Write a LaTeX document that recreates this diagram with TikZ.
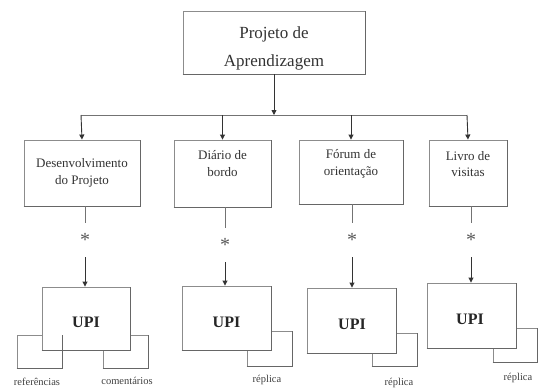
\documentclass[tikz,border=0pt]{standalone}
\usepackage{fontspec}
\setmainfont{LiberationSerif}[Extension=.ttf, UprightFont=*-Regular, BoldFont=*-Bold, ItalicFont=*-Italic, BoldItalicFont=*-BoldItalic]
\usetikzlibrary{arrows.meta}
\begin{document}
\begin{tikzpicture}[x=1pt,y=-1pt,
  boxst/.style={draw=black!45, line width=0.9pt, fill=white, inner sep=0pt},
  edgest/.style={draw=black!60, line width=1.6pt},
  txt/.style={inner sep=0pt, align=center, text=black!80, font=\fontsize{13}{16.5}\selectfont},
  upist/.style={inner sep=0pt, text=black!85, font=\fontsize{16}{16}\selectfont\bfseries},
  lab/.style={inner sep=0pt, text=black!75, font=\fontsize{10.5}{11}\selectfont},
  starst/.style={inner sep=0pt, minimum height=34pt, text=black!65, font=\fontsize{20}{20}\selectfont},
  conn/.style={draw=black!55, line width=0.9pt},
  arr/.style={draw=black!80, line width=0.9pt, -{Triangle[length=5pt,width=5pt]}}
]
\useasboundingbox (0,0) rectangle (539,389);

% top
\node[boxst, minimum width=182pt, minimum height=63pt] (top) at (274,42.5) {};
\node[txt, font=\fontsize{17}{28}\selectfont] (ttop) at (274,48) {Projeto de\\Aprendizagem};

% level 2 boxes
\node[boxst, minimum width=116pt, minimum height=66pt] (b1) at (82,173) {};
\node[boxst, minimum width=97pt, minimum height=67pt] (b2) at (222.5,173.5) {};
\node[boxst, minimum width=104pt, minimum height=64pt] (b3) at (351,172) {};
\node[boxst, minimum width=78pt, minimum height=66pt] (b4) at (468,173) {};
\node[txt] (t1) at (82,173) {Desenvolvimento\\do Projeto};
\node[txt] (t2) at (222.5,163.5) {Diário de\\bordo};
\node[txt] (t3) at (351,164) {Fórum de\\orientação};
\node[txt] (t4) at (468,164) {Livro de\\visitas};

% small boxes (behind)
\node[boxst, minimum width=45pt, minimum height=33pt] (s1l) at (39.5,351.5) {};
\node[boxst, minimum width=45pt, minimum height=33pt] (s1r) at (125.5,351.5) {};
\node[boxst, minimum width=45pt, minimum height=35pt] (s2) at (269.5,348.5) {};
\node[boxst, minimum width=45pt, minimum height=33pt] (s3) at (394.5,349.5) {};
\node[boxst, minimum width=44pt, minimum height=34pt] (s4) at (515,345) {};

% UPI boxes
\node[boxst, minimum width=88pt, minimum height=63pt] (u1) at (86,318.5) {};
\node[boxst, minimum width=89pt, minimum height=64pt] (u2) at (226.5,318) {};
\node[boxst, minimum width=89pt, minimum height=65pt] (u3) at (351.5,320.5) {};
\node[boxst, minimum width=89pt, minimum height=65pt] (u4) at (471.5,315.5) {};
\node[upist] (x1) at (86,322) {UPI};
\node[upist] (x2) at (226.5,322) {UPI};
\node[upist] (x3) at (352,324) {UPI};
\node[upist] (x4) at (470,319) {UPI};

% darker bottom/right edges
\foreach \n in {top,b1,b2,b3,b4,u1,u2,u3,u4,s1l,s1r,s2,s3,s4}
  \draw[edgest] (\n.south west) -- (\n.south east) -- (\n.north east);

% labels
\node[lab] (l1) at (37,382) {referências};
\node[lab] (l2) at (127,381) {comentários};
\node[lab] (l3) at (267,380) {réplica};
\node[lab] (l4) at (399,383) {réplica};
\node[lab] (l5) at (518,378) {réplica};

% tree connectors
\coordinate (hub) at (274,115);
\coordinate (hl) at (81,115);
\coordinate (hr) at (467,115);
\draw[arr] (top.south) -- (hub);
\draw[conn] (hl) -- (hr);
\draw[arr] (hl) -- (b1.north);
\draw[arr] (hub -| b2.north) -- (b2.north);
\draw[arr] (hub -| b3.north) -- (b3.north);
\draw[arr] (hr) -- (b4.north);

% stars and lower connectors
\node[starst] (st1) at (85,240) {\raisebox{-0.45em}{*}};
\node[starst] (st2) at (225,245) {\raisebox{-0.45em}{*}};
\node[starst] (st3) at (352,240) {\raisebox{-0.45em}{*}};
\node[starst] (st4) at (471,240) {\raisebox{-0.45em}{*}};
\draw[conn] (b1.south -| st1) -- (st1.north);
\draw[conn] (b2.south -| st2) -- (st2.north);
\draw[conn] (b3.south -| st3) -- (st3.north);
\draw[conn] (b4.south -| st4) -- (st4.north);
\draw[arr] (st1.south) -- (st1.south |- u1.north);
\draw[arr] (st2.south) -- (st2.south |- u2.north);
\draw[arr] (st3.south) -- (st3.south |- u3.north);
\draw[arr] (st4.south) -- (st4.south |- u4.north);
\end{tikzpicture}
\end{document}
